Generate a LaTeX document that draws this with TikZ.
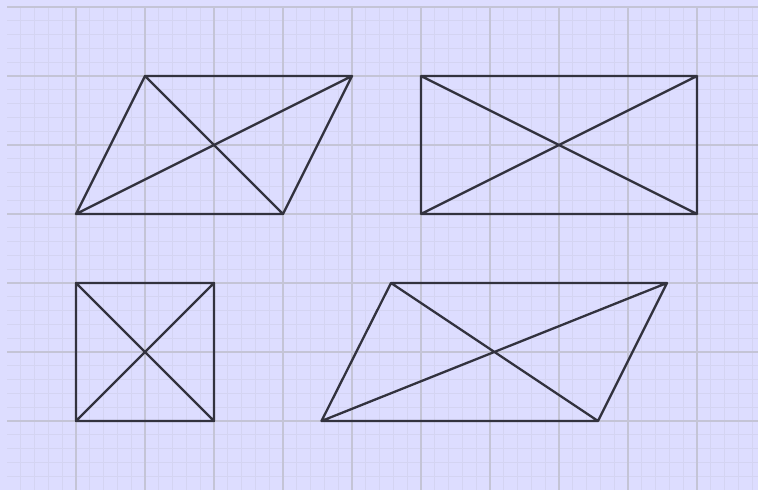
\documentclass[tikz,border=0pt]{standalone}
\begin{document}
\begin{tikzpicture}[x=0.5pt,y=-0.5pt,
  minorline/.style={draw=minorc,line width=0.5pt},
  majorline/.style={draw=majorc,line width=0.65pt},
  figline/.style={draw=shapec,line width=1.15pt,line join=round,line cap=round}]
\definecolor{bgc}{RGB}{221,221,255}
\definecolor{minorc}{RGB}{212,212,242}
\definecolor{majorc}{RGB}{196,196,214}
\definecolor{shapec}{RGB}{50,50,62}
\fill[bgc] (0,0) rectangle (758,490);
\useasboundingbox (0,0) rectangle (758,490);
\foreach \k in {1,...,55} {\draw[minorline] ({7+13.8*\k},7) -- ({7+13.8*\k},490);}
\foreach \k in {1,...,35} {\draw[minorline] (7,{7+13.8*\k}) -- (758,{7+13.8*\k});}
\foreach \k in {1,...,10} {\draw[majorline] ({7+69*\k},7) -- ({7+69*\k},490);}
\foreach \k in {0,...,6} {\draw[majorline] (7,{7+69*\k}) -- (758,{7+69*\k});}
% parallelogram 1
\coordinate (a1) at (145,76); \coordinate (b1) at (352,76);
\coordinate (c1) at (283,214); \coordinate (d1) at (76,214);
\draw[figline] (a1) -- (b1) -- (c1) -- (d1) -- cycle (a1) -- (c1) (d1) -- (b1);
% rectangle
\coordinate (a2) at (421,76); \coordinate (b2) at (697,76);
\coordinate (c2) at (697,214); \coordinate (d2) at (421,214);
\draw[figline] (a2) -- (b2) -- (c2) -- (d2) -- cycle (a2) -- (c2) (d2) -- (b2);
% square
\coordinate (a3) at (76,283); \coordinate (b3) at (214,283);
\coordinate (c3) at (214,421); \coordinate (d3) at (76,421);
\draw[figline] (a3) -- (b3) -- (c3) -- (d3) -- cycle (a3) -- (c3) (d3) -- (b3);
% parallelogram 2
\coordinate (a4) at (391,283); \coordinate (b4) at (667,283);
\coordinate (c4) at (598,421); \coordinate (d4) at (321.5,421);
\draw[figline] (a4) -- (b4) -- (c4) -- (d4) -- cycle (a4) -- (c4) (d4) -- (b4);
\end{tikzpicture}
\end{document}
